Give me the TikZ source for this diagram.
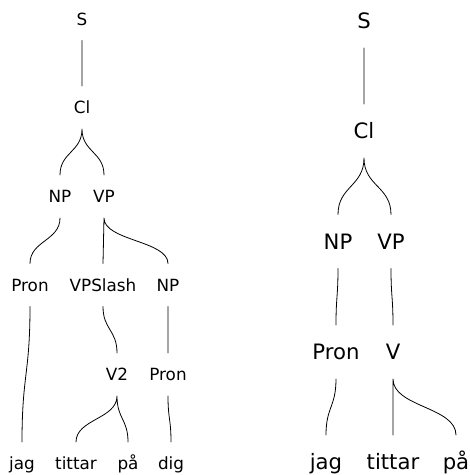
\documentclass[tikz,border=0pt]{standalone}
\usepackage{fontspec}
\setmainfont{DejaVu Sans}
\usetikzlibrary{positioning,calc}

\begin{document}
\begin{tikzpicture}[
    x=1pt,y=-1pt,
    every node/.style = {inner sep=0pt,outer sep=0pt,text depth=0pt},
    small/.style = {font=\fontsize{16.8}{20}\selectfont,text height=12.3pt,minimum height=43pt},
    big/.style = {font=\fontsize{21.2}{25}\selectfont,text height=15.5pt,minimum height=54pt},
    edge/.style = {line width=.8pt,line cap=round},
    branch/.style = {to path={.. controls ($(\tikztostart)!.5!(\tikztostart|-\tikztotarget)$)
        and ($(\tikztotarget)!.5!(\tikztotarget|-\tikztostart)$) .. (\tikztotarget)}},
    ]
    \useasboundingbox (0,0) rectangle (470,475);
    % left tree
    \node[small] (l-S) at (82,19) {S};
    \node[small] (l-Cl) at (82,107.5) {Cl};
    \node[small] (l-NP) at (60,196.5) {NP};
    \node[small] (l-VP) at (104,196.5) {VP};
    \node[small] (l-Pron) at (30,285) {Pron};
    \node[small] (l-VPSlash) at (103,285) {VPSlash};
    \node[small] (l-NP2) at (168,285) {NP};
    \node[small] (l-V2) at (117,374.5) {V2};
    \node[small] (l-Pron2) at (168,374.5) {Pron};
    \node[small] (l-jag) at (22,463.5) {jag};
    \node[small] (l-tittar) at (76,463.5) {tittar};
    \node[small] (l-pa) at (128,463.5) {på};
    \node[small] (l-dig) at (171,463.5) {dig};
    \draw[edge]
    (l-S.south) to[branch] (l-Cl.north)
    (l-Cl.south) to[branch] (l-NP.north)
    (l-Cl.south) to[branch] (l-VP.north)
    (l-NP.south) to[branch] (l-Pron.north)
    (l-VP.south) to[branch] (l-VPSlash.north)
    (l-VP.south) to[branch] (l-NP2.north)
    (l-Pron.south) to[branch] (l-jag.north)
    (l-VPSlash.south) to[branch] (l-V2.north)
    (l-NP2.south) to[branch] (l-Pron2.north)
    (l-V2.south) to[branch] (l-tittar.north)
    (l-V2.south) to[branch] (l-pa.north)
    (l-Pron2.south) to[branch] (l-dig.north)
    ;
    % right tree
    \node[big] (r-S) at (364,21) {S};
    \node[big] (r-Cl) at (364,131) {Cl};
    \node[big] (r-NP) at (338,241.5) {NP};
    \node[big] (r-VP) at (391,241.5) {VP};
    \node[big] (r-Pron) at (336,352) {Pron};
    \node[big] (r-V) at (393,352) {V};
    \node[big] (r-jag) at (326,462) {jag};
    \node[big] (r-tittar) at (393,462) {tittar};
    \node[big] (r-pa) at (456,462) {på};
    \draw[edge]
    (r-S.south) to[branch] (r-Cl.north)
    (r-Cl.south) to[branch] (r-NP.north)
    (r-Cl.south) to[branch] (r-VP.north)
    (r-NP.south) to[branch] (r-Pron.north)
    (r-VP.south) to[branch] (r-V.north)
    (r-Pron.south) to[branch] (r-jag.north)
    (r-V.south) to[branch] (r-tittar.north)
    (r-V.south) to[branch] (r-pa.north)
    ;
\end{tikzpicture}
\end{document}
